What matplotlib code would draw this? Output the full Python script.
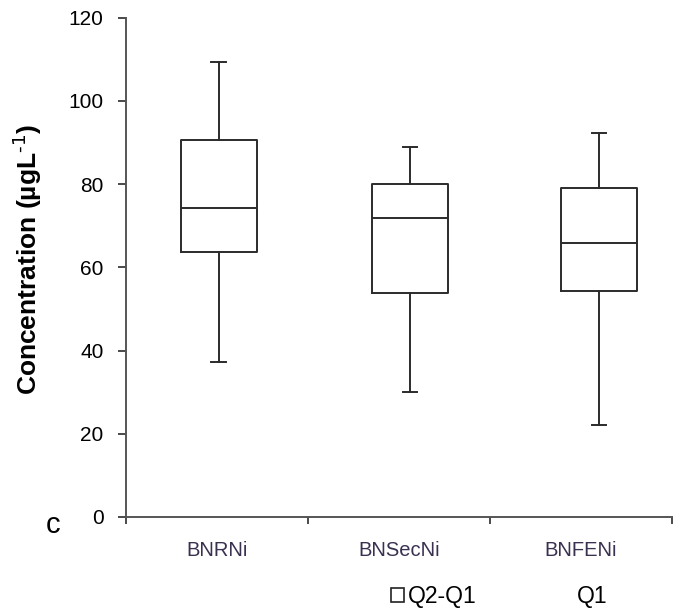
import matplotlib.pyplot as plt
from matplotlib.patches import Patch

plt.rcParams['font.family'] = ['Liberation Sans', 'DejaVu Sans']

categories = ['BNRNi', 'BNSecNi', 'BNFENi']
whisker_low = [37.3, 30.0, 22.1]
q1 = [63.6, 53.8, 54.2]
median = [74.2, 71.8, 65.9]
q3 = [90.5, 80.1, 79.0]
whisker_high = [109.3, 88.9, 92.4]
box_pos = [0.51, 1.56, 2.60]
label_pos = [0.5, 1.5, 2.5]

stats = []
for i, name in enumerate(categories):
    stats.append({'label': name, 'whislo': whisker_low[i], 'q1': q1[i],
                  'med': median[i], 'q3': q3[i], 'whishi': whisker_high[i],
                  'fliers': []})

fig = plt.figure(figsize=(6.92, 6.11), dpi=100)
ax = fig.add_axes([0.182, 0.154, 0.789, 0.817])

line_c = '#2b2b2b'
ax.bxp(stats, positions=box_pos, widths=0.42, capwidths=0.08,
       showfliers=False, manage_ticks=False,
       boxprops=dict(color=line_c, linewidth=1.4),
       medianprops=dict(color=line_c, linewidth=1.4),
       whiskerprops=dict(color=line_c, linewidth=1.4),
       capprops=dict(color=line_c, linewidth=1.4))

ax.set_xlim(0, 3)
ax.set_ylim(0, 120)
ax.set_yticks(range(0, 121, 20))
ax.tick_params(axis='y', labelsize=15, direction='out', length=6, width=1.2,
               color=line_c, pad=10)

ax.set_xticks(label_pos)
ax.set_xticklabels(categories, color='#3a3050', fontsize=14.5)
ax.set_xticks([0, 1, 2, 3], minor=True)
ax.tick_params(axis='x', which='major', length=0, pad=17)
ax.tick_params(axis='x', which='minor', direction='out', length=5, width=1.2,
               color=line_c)

for s in ['top', 'right']:
    ax.spines[s].set_visible(False)
for s in ['left', 'bottom']:
    ax.spines[s].set_color('#555555')
    ax.spines[s].set_linewidth(1.4)

ax.set_ylabel('Concentration (µgL$^{\\text{-1}}$)', fontsize=19,
              fontweight='bold')
ax.yaxis.set_label_coords(-0.15, 0.515)

fig.text(0.077, 0.14, 'c', fontsize=21, ha='center', va='center')

handles = [Patch(facecolor='white', edgecolor='#222222', linewidth=1.2),
           Patch(facecolor='white', edgecolor='none')]
fig.legend(handles, ['Q2-Q1', 'Q1'], loc='center', bbox_to_anchor=(0.722, 0.023),
           ncol=2, frameon=False, fontsize=16.5, handlelength=0.55,
           handleheight=0.55, handletextpad=0.15, columnspacing=3.7)

fig.savefig('out.png', dpi=100)
